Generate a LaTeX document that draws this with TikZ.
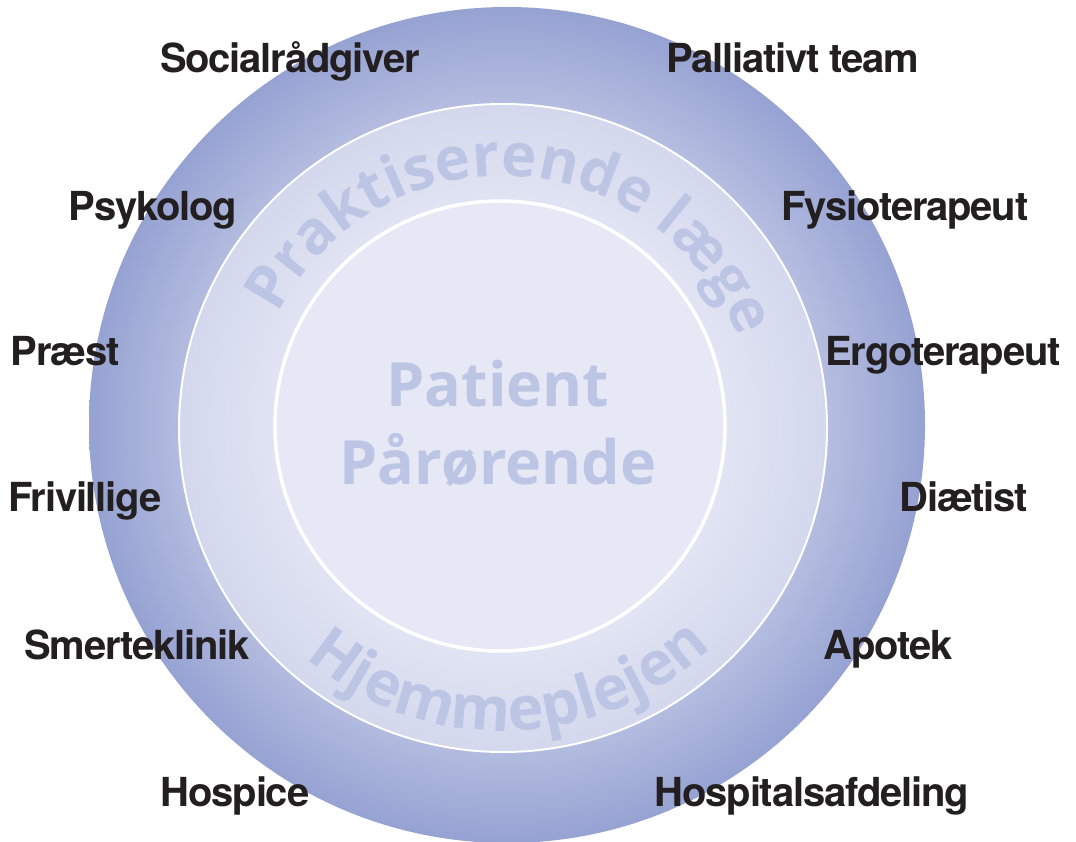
\documentclass[tikz,border=0pt]{standalone}
\usepackage{fontspec}
\usetikzlibrary{decorations.text}

% fonts: grotesque labels round the rim, humanist sans for the rings
\newfontfamily\labelfont[LetterSpace=-3]{TeX Gyre Heros}
\newfontfamily\ringfont{Open Sans}

% palette
\definecolor{labelink}{HTML}{231F20}
\definecolor{ringink}{HTML}{BDC5E4}
\definecolor{outerrim}{HTML}{96A2D2}
\definecolor{outermid}{HTML}{B4BDE0}
\definecolor{midedge}{HTML}{D3D8ED}
\definecolor{midin}{HTML}{E1E4F3}
\definecolor{core}{HTML}{E6E8F5}

% radial fills (25bp = edge of the shaded disc)
\pgfdeclareradialshading{outershade}{\pgfpoint{0bp}{0bp}}{%
  color(0bp)=(outermid); color(19.3bp)=(outermid);
  color(25bp)=(outerrim); color(50bp)=(outerrim)}
\pgfdeclareradialshading{middleshade}{\pgfpoint{0bp}{0bp}}{%
  color(0bp)=(core); color(17.3bp)=(midin);
  color(25bp)=(midedge); color(50bp)=(midedge)}

\tikzset{
  lbl/.style={font=\labelfont\bfseries\fontsize{40}{40}\selectfont,
              text=labelink, anchor=base, inner sep=0pt},
  centretext/.style={font=\ringfont\bfseries\fontsize{61}{61}\selectfont,
              text=ringink, anchor=base, inner sep=0pt},
  ringline/.style={draw=white}
}

\begin{document}
\begin{tikzpicture}[x=1pt,y=1pt]
  \useasboundingbox (0,0) rectangle (1076,841);
  \clip (0,0) rectangle (1076,841);

  % centres of the three discs
  \coordinate (outerc) at (507,416);
  \coordinate (midc)   at (503,413);
  \coordinate (innerc) at (500,415);

  % discs
  \shade[shading=outershade] (outerc) circle[radius=418pt];
  \shade[shading=middleshade] (midc) circle[radius=324pt];
  \draw[ringline, line width=2pt] (midc) circle[radius=324pt];
  \fill[core] (innerc) circle[radius=225pt];
  \draw[ringline, line width=3.5pt] (innerc) circle[radius=225pt];

  % ring captions
  \path[decorate, decoration={text along path, text align=center,
        text color=ringink,
        text={|\ringfont\bfseries\fontsize{60}{60}\selectfont|Praktiserende læge}}]
    (midc) ++(160:252pt) arc[start angle=160, end angle=14, radius=252pt];
  \path[decorate, decoration={text along path, text align=center,
        text color=ringink,
        text={|\ringfont\bfseries\fontsize{61}{61}\selectfont|Hjemmeplejen}}]
    (midc) ++(-136:303pt) arc[start angle=-136, end angle=-41, radius=303pt];

  % centre
  \node[centretext] (patient)     at (498,434) {Patient};
  \node[centretext] (paaroerende) at (498,356) {Pårørende};

  % services round the rim
  \node[lbl] (socialraadgiver) at (290,768) {Socialrådgiver};
  \node[lbl] (psykolog)        at (153,620) {Psykolog};
  \node[lbl] (praest)          at (65,475)  {Præst};
  \node[lbl] (frivillige)      at (85,329)  {Frivillige};
  \node[lbl] (smerteklinik)    at (137,182) {Smerteklinik};
  \node[lbl] (hospice)         at (235,35)  {Hospice};

  \node[lbl] (palliativt)      at (793,768) {Palliativt team};
  \node[lbl] (fysioterapeut)   at (905,620) {Fysioterapeut};
  \node[lbl] (ergoterapeut)    at (943,475) {Ergoterapeut};
  \node[lbl] (diaetist)        at (964,329) {Diætist};
  \node[lbl] (apotek)          at (888,182) {Apotek};
  \node[lbl] (hospitalsafd)    at (812,35)  {Hospitalsafdeling};
\end{tikzpicture}
\end{document}
